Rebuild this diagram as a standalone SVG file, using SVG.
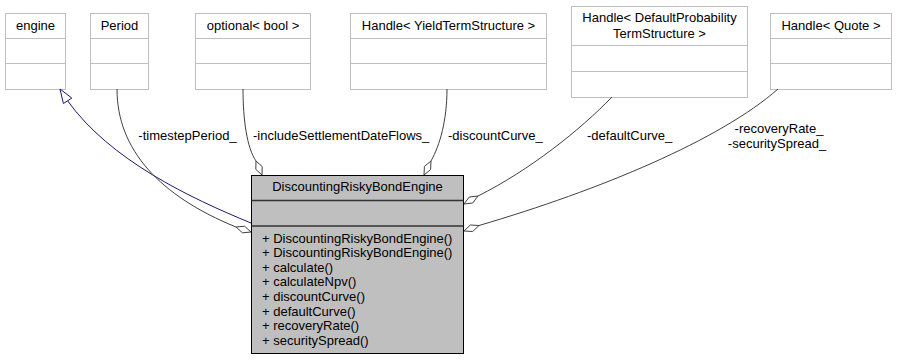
<svg xmlns="http://www.w3.org/2000/svg" width="897" height="360" viewBox="0 0 897 360">
  <style>
    text { font-family: "Liberation Sans", Arial, sans-serif; font-size: 13px; fill: #000; }
    .c { text-anchor: middle; }
    .box { fill: #fff; stroke: #bfbfbf; stroke-width: 1; }
    .sep { stroke: #bfbfbf; stroke-width: 1; }
    .main { fill: #bfbfbf; stroke: #000; stroke-width: 1; }
    .msep { stroke: #333; stroke-width: 1.5; }
    .assoc { fill: none; stroke: #404040; stroke-width: 1; }
    .inh { fill: none; stroke: #191970; stroke-width: 1; }
    .dia { fill: #fff; stroke: #404040; stroke-width: 1; }
    .tri { fill: #fff; stroke: #191970; stroke-width: 1; }
  </style>

  <!-- base and member classes -->
  <g id="engine">
    <rect class="box" x="5.5" y="13.5" width="60" height="76"/>
    <line class="sep" x1="5.5" y1="38.5" x2="65.5" y2="38.5"/>
    <line class="sep" x1="5.5" y1="63.5" x2="65.5" y2="63.5"/>
    <text class="c" x="35.5" y="30">engine</text>
  </g>
  <g id="period">
    <rect class="box" x="90.5" y="13.5" width="58" height="76"/>
    <line class="sep" x1="90.5" y1="38.5" x2="148.5" y2="38.5"/>
    <line class="sep" x1="90.5" y1="63.5" x2="148.5" y2="63.5"/>
    <text class="c" x="119.5" y="30">Period</text>
  </g>
  <g id="optional_bool">
    <rect class="box" x="195.5" y="13.5" width="115" height="76"/>
    <line class="sep" x1="195.5" y1="38.5" x2="310.5" y2="38.5"/>
    <line class="sep" x1="195.5" y1="63.5" x2="310.5" y2="63.5"/>
    <text class="c" x="253" y="30">optional&lt; bool &gt;</text>
  </g>
  <g id="handle_yield">
    <rect class="box" x="350.5" y="13.5" width="196" height="76"/>
    <line class="sep" x1="350.5" y1="38.5" x2="546.5" y2="38.5"/>
    <line class="sep" x1="350.5" y1="63.5" x2="546.5" y2="63.5"/>
    <text class="c" x="448.5" y="30">Handle&lt; YieldTermStructure &gt;</text>
  </g>
  <g id="handle_default">
    <rect class="box" x="571.5" y="6.5" width="176" height="91"/>
    <line class="sep" x1="571.5" y1="45.5" x2="747.5" y2="45.5"/>
    <line class="sep" x1="571.5" y1="71.5" x2="747.5" y2="71.5"/>
    <text class="c" x="659.5" y="22">Handle&lt; DefaultProbability</text>
    <text class="c" x="659.5" y="37.5">TermStructure &gt;</text>
  </g>
  <g id="handle_quote">
    <rect class="box" x="770.5" y="13.5" width="121" height="76"/>
    <line class="sep" x1="770.5" y1="38.5" x2="891.5" y2="38.5"/>
    <line class="sep" x1="770.5" y1="63.5" x2="891.5" y2="63.5"/>
    <text class="c" x="831" y="30">Handle&lt; Quote &gt;</text>
  </g>

  <!-- the engine class itself -->
  <g id="discounting_risky_bond_engine">
    <rect class="main" x="251.5" y="175.5" width="212" height="178"/>
    <line class="msep" x1="251.5" y1="200.5" x2="463.5" y2="200.5"/>
    <line class="msep" x1="251.5" y1="226" x2="463.5" y2="226"/>
    <text class="c" x="357.5" y="191">DiscountingRiskyBondEngine</text>
    <text x="262" y="242.5">+ DiscountingRiskyBondEngine()</text>
    <text x="262" y="257.1">+ DiscountingRiskyBondEngine()</text>
    <text x="262" y="271.7">+ calculate()</text>
    <text x="262" y="286.3">+ calculateNpv()</text>
    <text x="262" y="300.9">+ discountCurve()</text>
    <text x="262" y="315.5">+ defaultCurve()</text>
    <text x="262" y="330.1">+ recoveryRate()</text>
    <text x="262" y="344.7">+ securitySpread()</text>
  </g>

  <!-- connectors -->
  <g id="connectors">
    <!-- inheritance -->
    <path class="inh" d="M251,223 C190,198 110,160 67.6,100.8"/>
    <polygon class="tri" points="60,89 71.8,98.1 63.4,103.5"/>

    <!-- timestepPeriod_ -->
    <path class="assoc" d="M117,89 C117,150 160,196 236,227"/>
    <polygon class="dia" points="251,232 244.6,226.2 236,227 242.4,232.8"/>
    <text class="c" x="187.5" y="139.5">-timestepPeriod_</text>

    <!-- includeSettlementDateFlows_ -->
    <path class="assoc" d="M243,89 C243,120 247,148 256,161"/>
    <polygon class="dia" points="262,175 262.2,166.6 256,161 255.8,169.4"/>
    <text x="253" y="139.5">-includeSettlementDateFlows_</text>

    <!-- discountCurve_ -->
    <path class="assoc" d="M447,89 C447,120 440,145 431,161"/>
    <polygon class="dia" points="424,175 424.4,166.4 431,161 430.6,169.6"/>
    <text x="448" y="139.5">-discountCurve_</text>

    <!-- defaultCurve_ -->
    <path class="assoc" d="M612,97 C580,130 530,170 478,196"/>
    <polygon class="dia" points="464,204 469.3,197 478,196 472.7,203"/>
    <text x="587" y="139.5">-defaultCurve_</text>

    <!-- recoveryRate_ / securitySpread_ -->
    <path class="assoc" d="M778,89 C720,140 600,190 479,225.5"/>
    <polygon class="dia" points="464,231 470.3,225 479,225.5 472.7,231.5"/>
    <text class="c" x="779" y="132.5">-recoveryRate_</text>
    <text class="c" x="777" y="147.5">-securitySpread_</text>
  </g>
</svg>
